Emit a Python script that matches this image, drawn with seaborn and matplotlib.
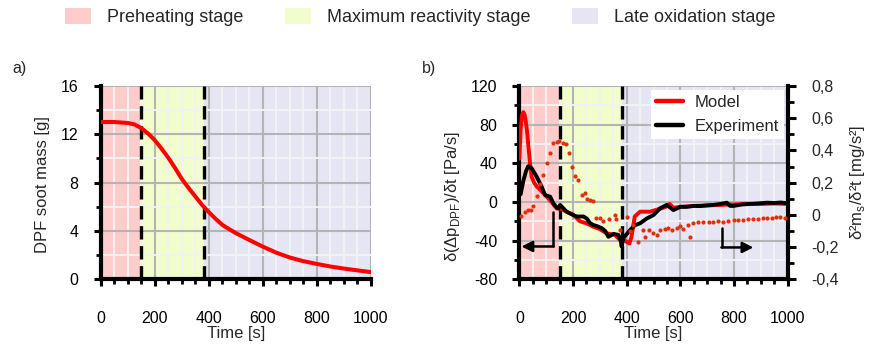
import matplotlib
matplotlib.use("Agg")
import matplotlib.pyplot as plt
from matplotlib.patches import Patch
from matplotlib.lines import Line2D
from matplotlib.ticker import MultipleLocator, FixedLocator, FixedFormatter
import seaborn as sns

# ---- stage boundaries [s] ----
stage_names = ["Preheating stage", "Maximum reactivity stage", "Late oxidation stage"]
stage_colors = ["#ffcccc", "#f2fdcc", "#e5e5f4"]
stage_edges = [0, 150, 384, 1000]

# ---- a) DPF soot mass ----
mass_t = [0, 50, 100, 125, 150, 175, 200, 225, 250, 275, 300, 325, 350, 375,
          400, 425, 450, 475, 500, 550, 600, 650, 700, 750, 800, 850, 900, 950, 1000]
mass_g = [13.0, 13.0, 12.92, 12.8, 12.5, 12.05, 11.5, 10.8, 10.05, 9.2, 8.3, 7.55,
          6.85, 6.15, 5.55, 5.0, 4.5, 4.15, 3.82, 3.25, 2.7, 2.2, 1.8, 1.5, 1.27,
          1.06, 0.89, 0.74, 0.6]

# ---- b) pressure-drop derivative, model ----
model_t = [0, 5, 10, 15, 20, 25, 30, 34, 40, 46, 55, 65, 80, 102, 120, 139, 152, 176,
           200, 226, 250, 276, 300, 325, 356, 374, 385, 399, 410, 418, 430, 450, 487,
           524, 545, 560, 575, 600, 650, 700, 750, 800, 850, 900, 950, 1000]
model_dp = [45, 75, 90, 93, 90, 82, 70, 57, 40, 26, 20, 16, 12, 5.5, 0, -6.6, -6.6, -10,
            -13, -20, -22, -25.6, -28, -32.4, -34, -39, -38, -41, -43, -36, -15, -10, -10,
            -7, -5, -2, -6, -5, -4, -3.5, -3, -2.5, -2, -2, -1.5, -2]

# ---- b) pressure-drop derivative, experiment ----
exp_t = [0, 5, 15, 25, 33, 46, 65, 83, 96, 115, 127, 140, 146, 152, 176, 201, 214, 239,
         251, 264, 276, 290, 307, 320, 332, 351, 369, 378, 381, 388, 413, 430, 450, 475,
         500, 524, 549, 574, 600, 624, 650, 673, 700, 723, 750, 773, 785, 798, 830, 860,
         890, 922, 950, 975, 997]
exp_dp = [10, 8, 22, 32, 37, 35, 26, 16, 7.2, 5.5, -1.4, -6, -6.6, -3, -10, -13.5, -15,
          -15, -17, -22, -23.8, -25, -27, -30, -36, -33, -34, -40, -46, -37, -29, -24,
          -22, -17, -13.5, -6.6, -3, -8.3, -5, -5, -4, -4.2, -3.5, -3, -2, -0.7, -4, -4,
          -2.5, -2, -1.5, -0.7, -1, -0.5, -1.4]

# ---- b) second derivative of soot mass [mg/s^2] ----
d2m_t = [5, 21, 34, 44, 52, 65, 76, 87, 102, 115, 127, 139, 149, 161, 174, 185, 195,
         208, 220, 232, 245, 254, 264, 276, 287, 301, 312, 333, 355, 362, 374, 400, 411,
         424, 443, 461, 467, 483, 499, 512, 524, 543, 555, 568, 586, 599, 611, 630, 636,
         648, 667, 686, 705, 723, 742, 760, 779, 798, 816, 835, 853, 872, 890, 909, 922,
         940, 955, 972, 990]
d2m_val = [-0.007, 0.016, 0.028, 0.03, 0.055, 0.117, 0.19, 0.248, 0.32, 0.386, 0.444,
           0.454, 0.46, 0.444, 0.44, 0.386, 0.30, 0.241, 0.217, 0.123, 0.134, 0.097,
           0.092, 0.085, -0.018, -0.02, -0.036, -0.028, 0.0, -0.025, -0.094, -0.01,
           -0.10, -0.065, -0.166, -0.094, -0.14, -0.094, -0.11, -0.125, -0.094, -0.09,
           -0.08, -0.094, -0.08, -0.07, -0.085, -0.06, -0.135, -0.05, -0.042, -0.045,
           -0.045, -0.045, -0.04, -0.042, -0.036, -0.034, -0.032, -0.03, -0.028, -0.026,
           -0.025, -0.02, -0.017, -0.02, -0.015, -0.011, -0.02]

x_ticks = [0, 200, 400, 600, 800, 1000]
right_ticks = [-0.4, -0.2, 0.0, 0.2, 0.4, 0.6, 0.8]
right_tick_labels = ["-0,4", "-0,2", "0", "0,2", "0,4", "0,6", "0,8"]

sns.set_theme(style="white")
plt.rcParams["font.family"] = ["Liberation Sans", "DejaVu Sans"]
plt.rcParams["mathtext.fontset"] = "custom"
plt.rcParams["mathtext.rm"] = "Liberation Sans"
plt.rcParams["axes.unicode_minus"] = False

TICK_FS = 11.5
LABEL_FS = 12

fig = plt.figure(figsize=(8.69, 3.47), dpi=100)
ax_a = fig.add_axes([0.1159, 0.195, 0.311, 0.558])
ax_b = fig.add_axes([0.5976, 0.195, 0.3089, 0.557])
ax_br = ax_b.twinx()


def style_axes(ax, xmaj, xmin, ymaj, ymin):
    ax.set_facecolor("white")
    for i, c in enumerate(stage_colors):
        ax.axvspan(stage_edges[i], stage_edges[i + 1], color=c, lw=0, zorder=0)
    for xv in stage_edges[1:3]:
        ax.axvline(xv, color="black", lw=2.4, ls=(0, (4, 2)), zorder=3)
    ax.set_axisbelow(True)
    ax.xaxis.set_major_locator(MultipleLocator(xmaj))
    ax.xaxis.set_minor_locator(MultipleLocator(xmin))
    ax.yaxis.set_major_locator(MultipleLocator(ymaj))
    ax.yaxis.set_minor_locator(MultipleLocator(ymin))
    ax.grid(which="minor", color="#f3f3f3", lw=1.4)
    ax.grid(which="major", color="#b4b4b4", lw=1.5)
    for s in ("top", "right"):
        ax.spines[s].set_visible(False)
    for s in ("left", "bottom"):
        ax.spines[s].set_color("black")
        ax.spines[s].set_linewidth(3)
        ax.spines[s].set_zorder(4)
    ax.tick_params(which="major", direction="out", length=5, width=2.2,
                   color="black", labelsize=TICK_FS, labelcolor="black")
    ax.tick_params(which="minor", direction="out", length=3.5, width=2.0, color="black")
    ax.tick_params(axis="x", which="major", pad=18)
    ax.tick_params(axis="y", which="major", pad=11)
    ax.tick_params(left=True, bottom=True)
    ax.tick_params(which="minor", left=True, bottom=True)


# ---- panel a ----
style_axes(ax_a, 200, 50, 4, 2)
sns.lineplot(x=mass_t, y=mass_g, ax=ax_a, color="#ff0000", lw=2.9, zorder=5,
             estimator=None)
ax_a.set_xlim(0, 1000)
ax_a.set_ylim(0, 16)
ax_a.set_xticks(x_ticks)
ax_a.set_xlabel("Time [s]", fontsize=LABEL_FS, labelpad=0)
ax_a.set_ylabel("DPF soot mass [g]", fontsize=LABEL_FS)
ax_a.yaxis.set_label_coords(-0.188, 0.49)

# ---- panel b ----
style_axes(ax_b, 200, 50, 40, 20)
sns.lineplot(x=model_t, y=model_dp, ax=ax_b, color="#ff0000", lw=2.8, zorder=5,
             estimator=None)
sns.lineplot(x=exp_t, y=exp_dp, ax=ax_b, color="black", lw=2.8, zorder=6,
             estimator=None)
ax_b.set_xlim(0, 1000)
ax_b.set_ylim(-80, 120)
ax_b.set_xticks(x_ticks)
ax_b.set_xlabel("Time [s]", fontsize=LABEL_FS, labelpad=0)
ax_b.set_ylabel(r"δ(Δp$_\mathregular{DPF}$)/δt [Pa/s]", fontsize=LABEL_FS)
ax_b.yaxis.set_label_coords(-0.215, 0.427)

# axis-direction arrows
ax_b.plot([127, 127], [-10, -46], color="black", lw=1.8, zorder=7)
ax_b.annotate("", xy=(8, -46), xytext=(128, -46),
              arrowprops=dict(arrowstyle="-|>", color="black", lw=1.8,
                              mutation_scale=16, shrinkA=0, shrinkB=0), zorder=7)
ax_b.plot([754, 754], [-27, -47], color="black", lw=1.8, zorder=7)
ax_b.annotate("", xy=(872, -47), xytext=(753, -47),
              arrowprops=dict(arrowstyle="-|>", color="black", lw=1.8,
                              mutation_scale=16, shrinkA=0, shrinkB=0), zorder=7)

# secondary axis: second derivative of soot mass
sns.scatterplot(x=d2m_t, y=d2m_val, ax=ax_br, color="#e2300c", s=9,
                linewidth=0, zorder=4)
ax_br.set_ylim(-0.4, 0.8)
ax_br.yaxis.set_major_locator(FixedLocator(right_ticks))
ax_br.yaxis.set_major_formatter(FixedFormatter(right_tick_labels))
ax_br.yaxis.set_minor_locator(MultipleLocator(0.1))
ax_br.grid(False)
for s in ("top", "left", "bottom"):
    ax_br.spines[s].set_visible(False)
ax_br.spines["right"].set_color("black")
ax_br.spines["right"].set_linewidth(3)
ax_br.tick_params(axis="y", which="major", direction="out", length=6, width=2.2,
                  color="black", labelsize=TICK_FS, pad=11, right=True)
ax_br.tick_params(axis="y", which="minor", direction="out", length=4, width=2.0,
                  color="black", right=True)
ax_br.set_ylabel("δ²m$_\mathregular{s}$/δ²t [mg/s²]", fontsize=LABEL_FS)
ax_br.yaxis.set_label_coords(1.226, 0.5)

leg_b = ax_b.legend(handles=[Line2D([], [], color="#ff0000", lw=3.2),
                             Line2D([], [], color="black", lw=3.2)],
                    labels=["Model", "Experiment"], loc="upper left",
                    bbox_to_anchor=(0.49, 0.979), borderaxespad=0, borderpad=0.3,
                    handlelength=1.6, handletextpad=0.75, labelspacing=0.55,
                    fontsize=LABEL_FS, frameon=True, fancybox=False,
                    facecolor="white", edgecolor="none", framealpha=1)
leg_b.set_zorder(10)
ax_b.set_zorder(2)
ax_br.set_zorder(3)
ax_b.patch.set_visible(True)

# panel labels
fig.text(12 / 869, 1 - 68 / 347, "a)", fontsize=TICK_FS, va="center", ha="left")
fig.text(422 / 869, 1 - 68 / 347, "b)", fontsize=TICK_FS, va="center", ha="left")

# stage legend
fig.legend(handles=[Patch(facecolor=c, edgecolor="none") for c in stage_colors],
           labels=stage_names, loc="upper left", ncol=3,
           bbox_to_anchor=(65 / 869, 1 - 8 / 347), borderaxespad=0, borderpad=0,
           handlelength=1.45, handleheight=0.95, handletextpad=0.88,
           columnspacing=2.3, fontsize=13, frameon=False)

fig.savefig("out.png", dpi=100)
